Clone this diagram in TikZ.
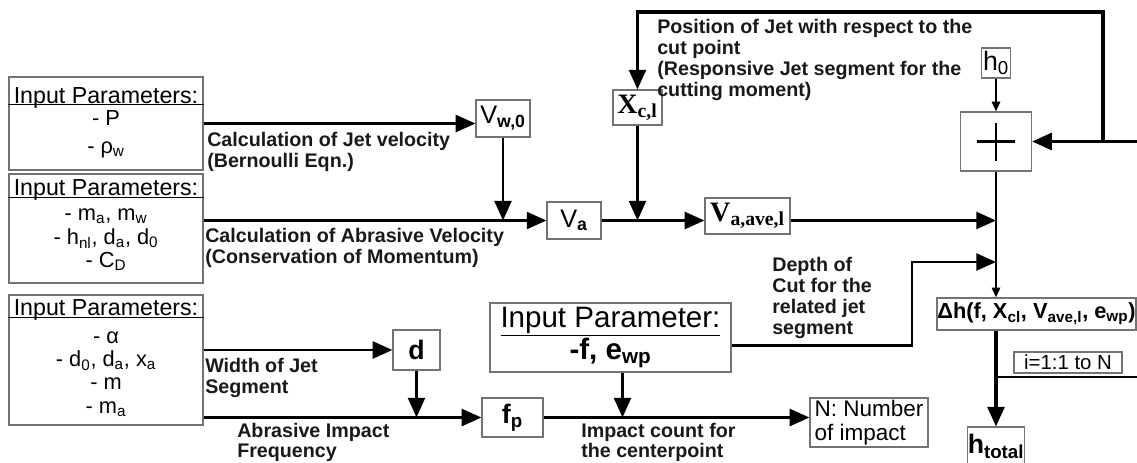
\documentclass[tikz,border=0pt]{standalone}
\usepackage{fontspec}
\setmainfont{Liberation Sans}
\newfontfamily\timesfont{Liberation Serif}
\usetikzlibrary{arrows.meta,calc}

\begin{document}
\begin{tikzpicture}[
		x=0.025cm, y=-0.025cm,
		box/.style={draw=black!55, line width=0.8pt, inner sep=0pt, font=\fontsize{18}{20}\selectfont},
		head/.style={font=\fontsize{16.5}{18}\selectfont, inner sep=0pt, anchor=base},
		items/.style={font=\fontsize{15.5}{16.6}\selectfont, align=center, inner sep=0pt},
		note/.style={font=\bfseries\fontsize{14}{14.9}\selectfont, align=left, inner sep=0pt, anchor=north west, text=black!90},
		flow/.style={line width=2pt, -{Triangle[length=14pt,width=12pt]}},
		link/.style={line width=1.3pt, -{Triangle[length=7pt,width=6pt]}},
		wire/.style={line width=1.4pt},
		serifbox/.style={box, font=\timesfont\bfseries\fontsize{20}{22}\selectfont}
		]
		
		\useasboundingbox (0,0) rectangle (1137,462);
		\clip (0,0) rectangle (1137,462);
		
		% Input parameter boxes
		\node[box, minimum width=4.85cm, minimum height=2.325cm] (in1) at (106,123.5) {};
		\node[box, minimum width=4.85cm, minimum height=2.725cm] (in2) at (106,228.5) {};
		\node[box, minimum width=4.85cm, minimum height=3.25cm] (in3) at (106,360) {};
		\node[head] (hd1) at (106,103) {Input Parameters:};
		\node[head] (hd2) at (106,195) {Input Parameters:};
		\node[head] (hd3) at (106,315) {Input Parameters:};
		\draw[line width=1pt] ($(in1.north west)+(0,28)$) -- ($(in1.north east)+(0,28)$);
		\draw[line width=1pt] ($(in2.north west)+(0,24)$) -- ($(in2.north east)+(0,24)$);
		\draw[line width=1pt] ($(in3.north west)+(0,23)$) -- ($(in3.north east)+(0,23)$);
		\node[items] (it1) at (106,134.5) {- P\\[3pt]- ρ\textsubscript{w}};
		\node[items] (it2) at (106,240) {- m\textsubscript{a}, m\textsubscript{w}\\- h\textsubscript{nl}, d\textsubscript{a}, d\textsubscript{0}\\- C\textsubscript{D}};
		\node[items] (it3) at (106,374) {- α\\- d\textsubscript{0}, d\textsubscript{a}, x\textsubscript{a}\\- m\\- m\textsubscript{a}};
		
		% Velocity chain
		\node[box, minimum width=1.35cm, minimum height=0.925cm] (vw0) at (503,118.5) {V\textsubscript{\bfseries w,0}};
		\node[box, minimum width=1.35cm, minimum height=0.925cm] (va) at (574,220.5) {V\textsubscript{\bfseries a}};
		\node[serifbox, minimum width=1.225cm, minimum height=0.875cm] (xcl) at (637.5,107.5) {X\textsubscript{c,l}};
		\node[serifbox, minimum width=2.125cm, minimum height=0.9cm] (vave) at (747.5,216) {V\textsubscript{a,ave,l}};
		
		% Summation and depth
		\node[box, minimum width=0.725cm, minimum height=0.75cm, font=\fontsize{19}{20}\selectfont] (h0) at (996,63) {h\textsubscript{0}};
		\node[box, minimum width=1.775cm, minimum height=1.475cm] (sum) at (996,141.5) {};
		\draw[line width=1.6pt] ($(sum.center)+(-19,0)$) -- ($(sum.center)+(19,0)$)
			($(sum.center)+(0,-19)$) -- ($(sum.center)+(0,19)$);
		\node[box, minimum width=4.975cm, minimum height=0.8cm, font=\bfseries\fontsize{15.5}{17}\selectfont] (dh) at (1036.5,314)
			{Δh(f, X\textsubscript{cl}, V\textsubscript{ave,l}, e\textsubscript{wp})};
		\node[box, minimum width=2.7cm, minimum height=0.525cm, font=\fontsize{14.5}{16}\selectfont] (loop) at (1068,362.5) {i=1:1 to N};
		\node[box, minimum width=1.425cm, minimum height=0.95cm, font=\bfseries\fontsize{19}{20}\selectfont] (htot) at (996,446) {h\textsubscript{total}};
		
		% Impact frequency
		\node[box, minimum width=6.025cm, minimum height=1.725cm, align=center, font=\fontsize{21}{22}\selectfont] (mid) at (610.5,337.5)
			{\underline{Input Parameter:}\\[1pt]\bfseries -f, e\textsubscript{wp}};
		\node[box, minimum width=1.175cm, minimum height=1cm, font=\bfseries\fontsize{19}{20}\selectfont] (d) at (416.5,350) {d};
		\node[box, minimum width=1.525cm, minimum height=0.975cm, font=\bfseries\fontsize{19}{20}\selectfont] (fp) at (512.5,417.5) {f\textsubscript{p}};
		\node[box, minimum width=2.95cm, minimum height=1.225cm, align=left, font=\fontsize{16}{17}\selectfont] (nbox) at (869,422.5) {N: Number\\of impact};
		
		% Connectors
		\draw[flow] (in1.east) -- (in1.east -| vw0.west);
		\draw[flow] (in2.east |- va.west) -- (va.west);
		\draw[flow] (vw0.south) -- (vw0.south |- va.west);
		\draw[flow] (va.east) -- (va.east -| vave.west);
		\draw[flow] (xcl.south) -- (xcl.south |- va.east);
		\draw[flow] (vave.east |- va.east) -- (sum.south |- va.east);
		
		\coordinate (rim) at (1137,377);
		\coordinate (turn) at (1103,12);
		\draw[flow, line width=2.2pt] (rim |- sum.east) -- (sum.east);
		\draw[flow, line width=2.2pt] (turn |- sum.east) -- (turn) -- (turn -| xcl.north) -- (xcl.north);
		\draw[link] (h0.south) -- (sum.north);
		\draw[link] (sum.south) -- (sum.south |- dh.north);
		\draw[flow, line width=2.4pt] (sum.south |- dh.south) -- (htot.north);
		\draw[wire] (sum.south |- rim) -- (rim);
		
		\coordinate (bend) at (912,262);
		\draw[flow] ($(mid.east)+(0,8)$) -| (bend) -- (bend -| sum.south);
		
		\draw[flow] (in3.east |- d.west) -- (d.west);
		\draw[flow] (in3.east |- fp.west) -- (fp.west);
		\draw[flow] (d.south) -- (d.south |- fp.west);
		\draw[flow] (fp.east) -- (fp.east -| nbox.west);
		\draw[flow] ($(mid.south)+(12,0)$) -- ($(mid.south |- fp.east)+(12,0)$);
		
		% Labels
		\node[note] (jetvel) at (207,132) {Calculation of Jet velocity\\(Bernoulli Eqn.)};
		\node[note] (abrvel) at (205,228) {Calculation of Abrasive Velocity\\(Conservation of Momentum)};
		\node[note] (jetpos) at (657,19) {Position of Jet with respect to the\\cut point\\(Responsive Jet segment for the\\cutting moment)};
		\node[note, font=\bfseries\fontsize{14}{15}\selectfont] (depth) at (772,257) {Depth of\\Cut for the\\related jet\\segment};
		\node[note] (width) at (205,358) {Width of Jet\\Segment};
		\node[note, font=\bfseries\fontsize{14}{14.4}\selectfont] (freq) at (237,423) {Abrasive Impact\\Frequency};
		\node[note, font=\bfseries\fontsize{14}{14.4}\selectfont] (count) at (581,423) {Impact count for\\the centerpoint};
		
	\end{tikzpicture}
\end{document}
